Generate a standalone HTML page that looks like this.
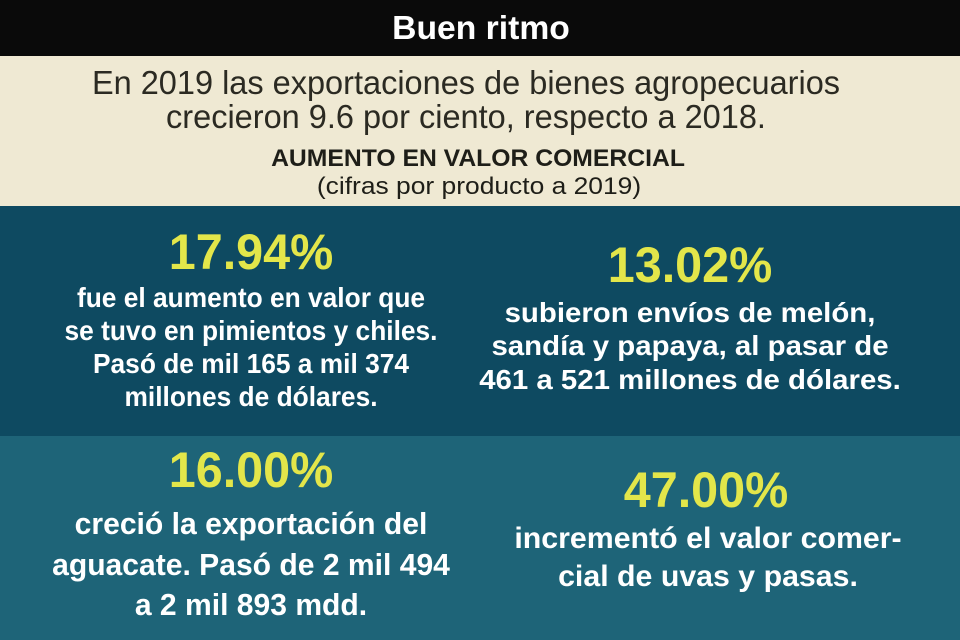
<!DOCTYPE html>
<html><head><meta charset="utf-8"><style>
*{margin:0;padding:0}
body{width:960px;height:640px;overflow:hidden;position:relative;font-family:"Liberation Sans",sans-serif;background:#0a0a0a}
.r{position:absolute;left:0;width:960px}
.t{position:absolute;white-space:nowrap;text-align:center;transform:translateX(-50%) scaleX(0.97);transform-origin:center}
.y{color:#e3e64a;font-weight:bold;font-size:50px}
.w{color:#fff;font-weight:bold;font-size:28px}
.L{transform:translateX(-50%) scaleX(0.94)}
.R{transform:translateX(-50%) scaleX(1.05)}
.B{transform:translateX(-50%) scaleX(1.01)}
</style></head><body>
<div class="r" style="top:0;height:56px;background:#0a0a0a"></div>
<div class="t" style="left:481px;top:9px;color:#fff;font-weight:bold;font-size:33px;transform:translateX(-50%) scaleX(1.02)">Buen ritmo</div>
<div class="r" style="top:56px;height:150px;background:#efe9d3"></div>
<div class="t" style="left:466px;top:64px;color:#2b2a22;font-size:33px;transform:translateX(-50%) scaleX(0.985)">En 2019 las exportaciones de bienes agropecuarios</div>
<div class="t" style="left:466px;top:98px;color:#2b2a22;font-size:33px;transform:translateX(-50%) scaleX(0.985)">crecieron 9.6 por ciento, respecto a 2018.</div>
<div class="t" style="left:478px;top:145px;color:#1e1e18;font-weight:bold;font-size:24px;transform:translateX(-50%) scaleX(1.03)">AUMENTO EN VALOR COMERCIAL</div>
<div class="t" style="left:479px;top:173px;color:#1e1e18;font-size:24px;transform:translateX(-50%) scaleX(1.1)">(cifras por producto a 2019)</div>
<div class="r" style="top:206px;height:230px;background:#0e4a61"></div>
<div class="r" style="top:436px;height:204px;background:#1e6478"></div>

<div class="t y" style="left:251px;top:223px">17.94%</div>
<div class="t w L" style="left:251px;top:282px">fue el aumento en valor que</div>
<div class="t w L" style="left:251px;top:315px">se tuvo en pimientos y chiles.</div>
<div class="t w L" style="left:251px;top:348px">Pasó de mil 165 a mil 374</div>
<div class="t w L" style="left:251px;top:381px">millones de dólares.</div>

<div class="t y" style="left:690px;top:236px">13.02%</div>
<div class="t w R" style="left:690px;top:297px">subieron envíos de melón,</div>
<div class="t w R" style="left:690px;top:330px">sandía y papaya, al pasar de</div>
<div class="t w R" style="left:690px;top:364px">461 a 521 millones de dólares.</div>

<div class="t y" style="left:251px;top:441px">16.00%</div>
<div class="t w" style="left:251px;top:506px;font-size:31px">creció la exportación del</div>
<div class="t w" style="left:251px;top:547px;font-size:31px">aguacate. Pasó de 2 mil 494</div>
<div class="t w" style="left:251px;top:587px;font-size:31px">a 2 mil 893 mdd.</div>

<div class="t y" style="left:706px;top:461px">47.00%</div>
<div class="t w B" style="left:708px;top:522px;font-size:30px">incrementó el valor comer-</div>
<div class="t w B" style="left:708px;top:560px;font-size:30px">cial de uvas y pasas.</div>
</body></html>
